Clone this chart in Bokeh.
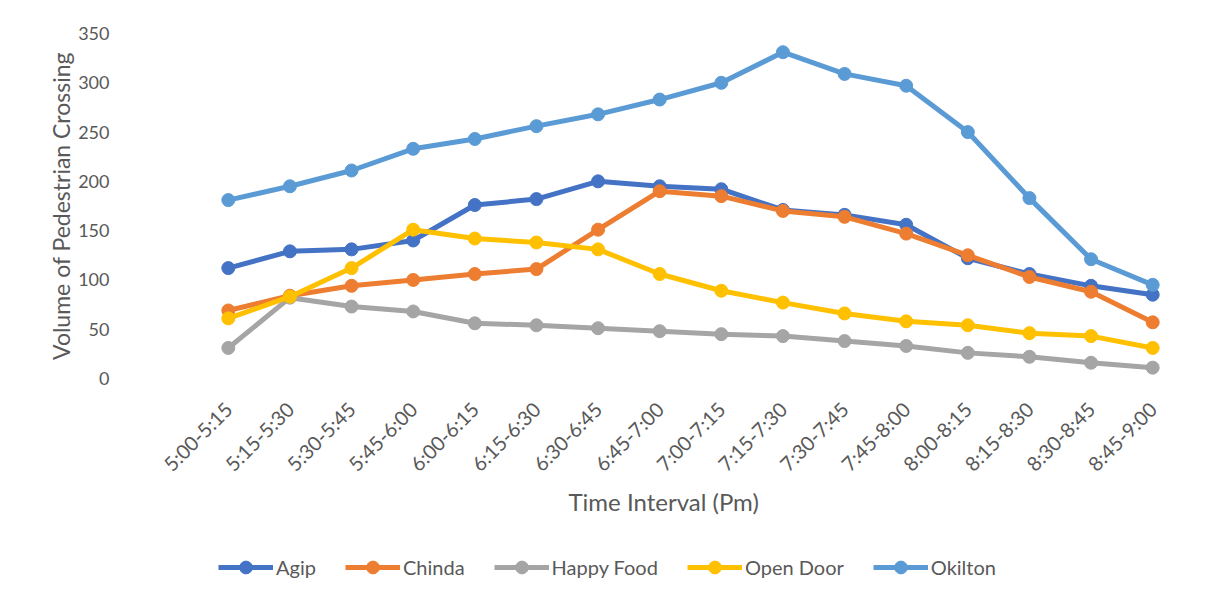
from math import pi
from bokeh.plotting import figure
from bokeh.layouts import column
from bokeh.models import Range1d, FactorRange, SingleIntervalTicker, Legend, LegendItem, Title
from bokeh.embed import file_html
from bokeh.resources import INLINE

intervals = ["5:00-5:15", "5:15-5:30", "5:30-5:45", "5:45-6:00", "6:00-6:15", "6:15-6:30",
             "6:30-6:45", "6:45-7:00", "7:00-7:15", "7:15-7:30", "7:30-7:45", "7:45-8:00",
             "8:00-8:15", "8:15-8:30", "8:30-8:45", "8:45-9:00"]
agip = [112, 129, 131, 140, 176, 182, 200, 195, 192, 171, 166, 156, 122, 106, 94, 85]
chinda = [69, 84, 94, 100, 106, 111, 151, 190, 185, 170, 164, 147, 125, 103, 88, 57]
happy_food = [31, 82, 73, 68, 56, 54, 51, 48, 45, 43, 38, 33, 26, 22, 16, 11]
open_door = [61, 83, 112, 151, 142, 138, 131, 106, 89, 77, 66, 58, 54, 46, 43, 31]
okilton = [181, 195, 211, 233, 243, 256, 268, 283, 300, 331, 309, 297, 250, 183, 121, 95]

series_names = ["Agip", "Chinda", "Happy Food", "Open Door", "Okilton"]
series_values = [agip, chinda, happy_food, open_door, okilton]
colors = ["#4472C4", "#ED7D31", "#A5A5A5", "#FFC000", "#5B9BD5"]

FONT = "Lato"
TXT = "#595959"

p = figure(width=1205, height=535,
           x_range=FactorRange(factors=intervals, range_padding=0),
           y_range=Range1d(0, 350),
           output_backend="svg", toolbar_location=None,
           min_border_left=197, min_border_right=22, min_border_top=33, min_border_bottom=157)
p.outline_line_color = None
p.xgrid.grid_line_color = None
p.ygrid.grid_line_color = None
p.background_fill_color = "white"
p.border_fill_color = "white"

for name, vals, col in zip(series_names, series_values, colors):
    p.line(intervals, vals, line_color=col, line_width=5, line_join="round")
    p.scatter(intervals, vals, size=13, fill_color=col, line_color=col)

# axes
for ax in (p.xaxis[0], p.yaxis[0]):
    ax.axis_line_color = None
    ax.major_tick_line_color = None
    ax.minor_tick_line_color = None
    ax.major_tick_out = 0
    ax.major_tick_in = 0
    ax.major_label_text_font = FONT
    ax.major_label_text_color = TXT
    ax.axis_label_text_font = FONT
    ax.axis_label_text_color = TXT
    ax.axis_label_text_font_style = "normal"

p.yaxis.ticker = SingleIntervalTicker(interval=50)
p.yaxis.major_label_text_font_size = "18px"
p.yaxis.major_label_standoff = 84
p.yaxis.axis_label = "Volume of Pedestrian Crossing"
p.yaxis.axis_label_text_font_size = "23px"
p.yaxis.axis_label_standoff = 0

p.xaxis.major_label_orientation = pi / 4
p.xaxis.major_label_text_font_size = "20px"
p.xaxis.major_label_standoff = 27

xt = Title(text="Time Interval (Pm)", align="left", offset=371,
           text_font=FONT, text_font_size="24px", text_font_style="normal",
           text_color=TXT, standoff=-6)
p.add_layout(xt, "below")

# legend strip: same series drawn against an empty y window so only the legend shows
lf = figure(width=1205, height=66,
            x_range=FactorRange(factors=intervals, range_padding=0),
            y_range=Range1d(1000, 1001),
            output_backend="svg", toolbar_location=None,
            min_border_left=0, min_border_right=0, min_border_top=0, min_border_bottom=0,
            x_axis_type=None, y_axis_type=None)
lf.outline_line_color = None
lf.background_fill_color = "white"
lf.border_fill_color = "white"
items = []
for name, vals, col in zip(series_names, series_values, colors):
    r1 = lf.line(intervals, vals, line_color=col, line_width=5)
    r2 = lf.scatter(intervals, vals, size=13, fill_color=col, line_color=col)
    items.append(LegendItem(label=name, renderers=[r1, r2]))

legend = Legend(items=items, orientation="horizontal", location=(21, 18),
                glyph_width=55, glyph_height=32, label_standoff=3, spacing=29,
                padding=0, margin=0, border_line_color=None, background_fill_alpha=0,
                label_text_font=FONT, label_text_font_size="20px", label_text_color=TXT)
lf.add_layout(legend, "center")

layout = column(p, lf, spacing=0)
open("out.html", "w").write(file_html(layout, INLINE))
